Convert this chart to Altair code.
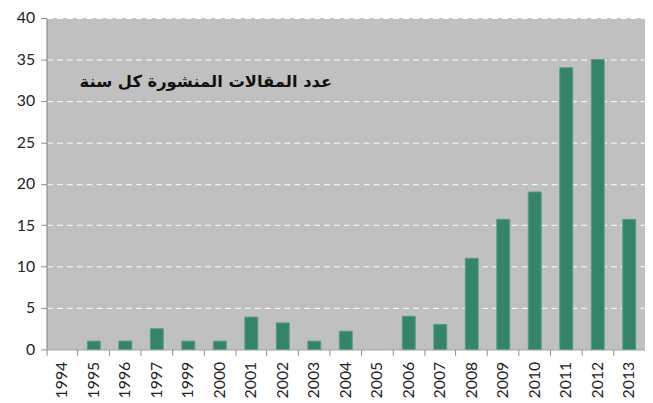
import altair as alt
import pandas as pd

years = ["1994", "1995", "1996", "1997", "1999", "2000", "2001", "2002", "2003", "2004",
         "2005", "2006", "2007", "2008", "2009", "2010", "2011", "2012", "2013"]
counts = [0, 1, 1, 2.5, 1, 1, 3.9, 3.2, 1, 2.2, 0, 4, 3, 11, 15.7, 19, 34, 35, 15.7]
title_text = "عدد المقالات المنشورة كل سنة"

df = pd.DataFrame({"year": years, "count": counts})

bars = alt.Chart(df).mark_bar(color="#36836B", stroke="#5A9C86", strokeWidth=1,
                              width=alt.RelativeBandSize(0.41)).encode(
    x=alt.X("year:N", sort=years, title=None,
            scale=alt.Scale(paddingInner=0, paddingOuter=0),
            axis=alt.Axis(labelAngle=270, labelAlign="right", labelBaseline="middle",
                          labelFont="Lato", labelFontSize=16, labelColor="#222222",
                          labelPadding=6, bandPosition=0, tickSize=6,
                          tickColor="#8c8c8c", domainColor="#8c8c8c", grid=False)),
    y=alt.Y("count:Q", title=None,
            scale=alt.Scale(domain=[0, 40], nice=False),
            axis=alt.Axis(values=[0, 5, 10, 15, 20, 25, 30, 35, 40],
                          labelFont="Lato", labelFontSize=16, labelColor="#222222",
                          labelPadding=6, tickSize=6, tickColor="#8c8c8c",
                          domainColor="#8c8c8c", grid=True, gridColor="#ffffff",
                          gridDash=[6, 4], gridWidth=1)),
    strokeOpacity=alt.condition(alt.datum.count > 0, alt.value(1), alt.value(0)),
)

label = alt.Chart(pd.DataFrame({"t": [title_text]})).mark_text(
    font="DejaVu Sans", fontSize=16.5, fontWeight="bold", color="#111111",
    align="center", baseline="middle"
).encode(text="t:N", x=alt.value(161), y=alt.value(65))

chart = (bars + label).properties(
    width=605, height=335,
    padding={"left": 8, "top": 0, "right": 0, "bottom": 0},
).configure_view(fill="#C0C0C0", stroke=None)

chart.save("out.html", embed_options={"renderer": "svg", "actions": False})
